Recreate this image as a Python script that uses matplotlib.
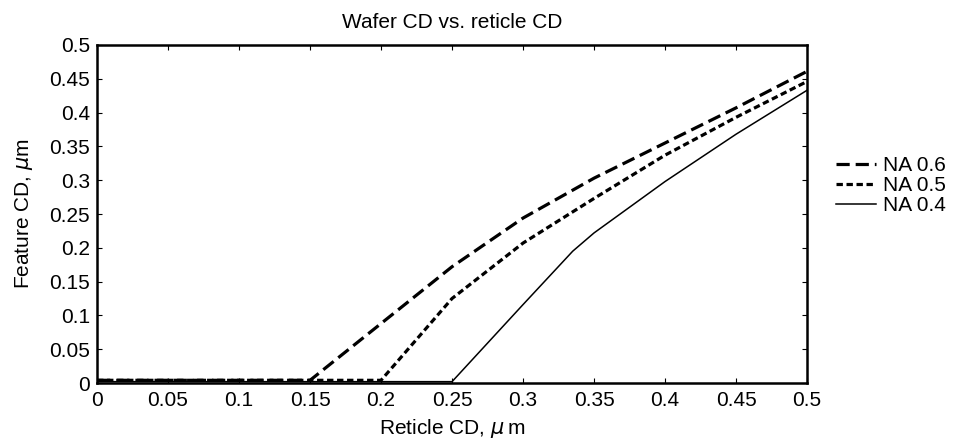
import matplotlib
matplotlib.use("Agg")
from matplotlib import pyplot as plt

plt.rcParams['font.family'] = ['Liberation Sans', 'DejaVu Sans']
plt.rcParams['font.size'] = 15
plt.rcParams['lines.scale_dashes'] = False

# curves
x_na6 = [0.0, 0.15, 0.2, 0.25, 0.3, 0.35, 0.4, 0.45, 0.5]
y_na6 = [0.004, 0.004, 0.088, 0.172, 0.244, 0.303, 0.355, 0.407, 0.461]

x_na5 = [0.0, 0.2, 0.25, 0.3, 0.35, 0.4, 0.45, 0.5]
y_na5 = [0.004, 0.004, 0.125, 0.207, 0.273, 0.337, 0.393, 0.446]

x_na4 = [0.0, 0.25, 0.3, 0.335, 0.35, 0.4, 0.45, 0.5]
y_na4 = [0.002, 0.002, 0.116, 0.195, 0.222, 0.298, 0.368, 0.433]

labels = ['NA 0.6', 'NA 0.5', 'NA 0.4']
ticks = [0, 0.05, 0.1, 0.15, 0.2, 0.25, 0.3, 0.35, 0.4, 0.45, 0.5]
tick_labels = ['0', '0.05', '0.1', '0.15', '0.2', '0.25', '0.3', '0.35', '0.4', '0.45', '0.5']

fig = plt.figure(figsize=(9.58, 4.45), dpi=100)
ax = fig.add_axes([0.1013, 0.1393, 0.7411, 0.7596])

ax.plot(x_na6, y_na6, color='black', lw=2.3, dashes=(9.5, 4.3), label=labels[0])
ax.plot(x_na5, y_na5, color='black', lw=2.3, dashes=(4.6, 2.6), label=labels[1])
ax.plot(x_na4, y_na4, color='black', lw=1.1, label=labels[2])

ax.set_xlim(0, 0.5)
ax.set_ylim(0, 0.5)
ax.set_xticks(ticks)
ax.set_xticklabels(tick_labels)
ax.set_yticks(ticks)
ax.set_yticklabels(tick_labels)
ax.tick_params(direction='in', length=3.6, width=0.8, top=True, right=True, labelsize=15)
ax.tick_params(axis='x', pad=6)
ax.tick_params(axis='y', pad=5)
for sp in ax.spines.values():
    sp.set_linewidth(1.8)

ax.set_title('Wafer CD vs. reticle CD', fontsize=15, pad=12)
ax.set_xlabel('Reticle CD, $\\mu$\u2009m', fontsize=15, labelpad=5)
ax.set_ylabel('Feature CD, $\\mu$m', fontsize=15, labelpad=10)

ax.legend(loc='center left', bbox_to_anchor=(1.015, 0.583), frameon=False,
          handlelength=1.9, handletextpad=0.35, labelspacing=0.05, fontsize=15)

fig.savefig('out.png', dpi=100)
